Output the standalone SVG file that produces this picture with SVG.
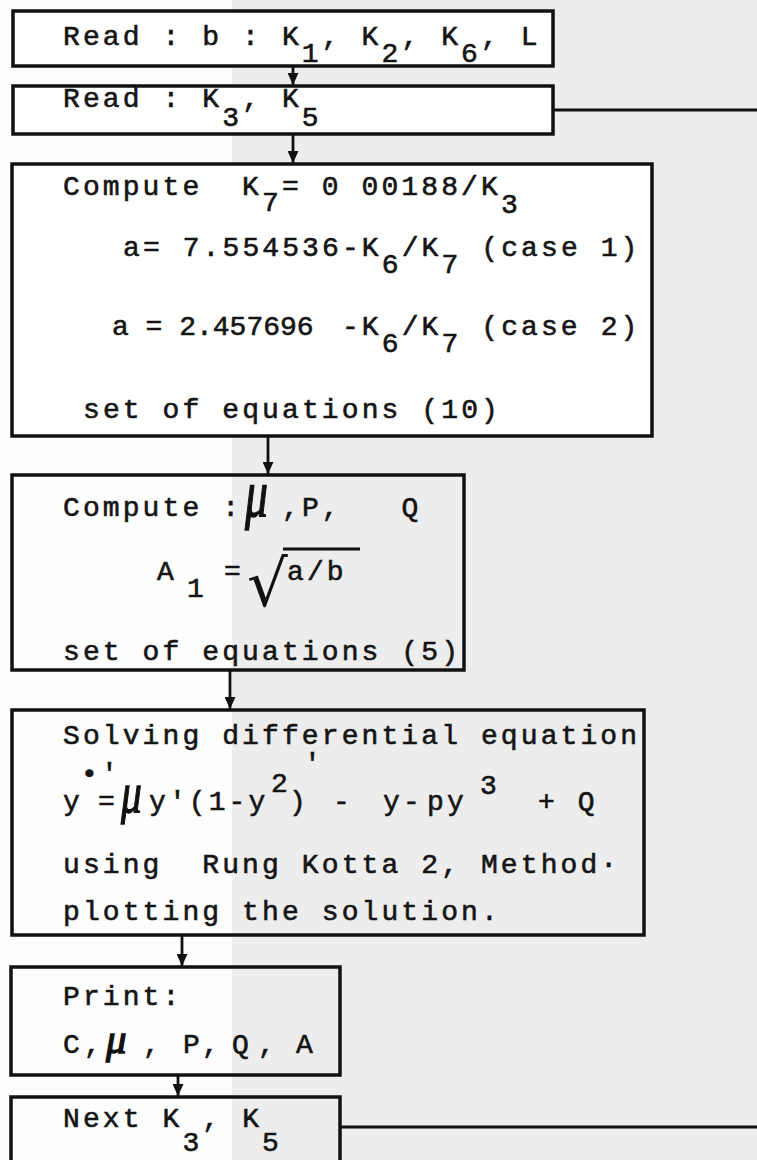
<svg xmlns="http://www.w3.org/2000/svg" width="757" height="1160" viewBox="0 0 757 1160">
<style>
.bx{fill:#fff;stroke:#111;stroke-width:3.5}
.bn{fill:none;stroke:#111;stroke-width:3.5}
.cn{stroke:#111;stroke-width:2.8;fill:none}
.t{font-family:"Liberation Mono","DejaVu Sans Mono",monospace;font-size:28px;letter-spacing:3.1px;fill:#151515;stroke:#151515;stroke-width:0.6px}
.mu{font-family:"Liberation Serif","DejaVu Serif",serif;font-style:italic;fill:#111;stroke:#111;stroke-width:0.8px}
.rt{font-family:"DejaVu Sans",sans-serif;fill:#111}
</style>
<defs>
<marker id="ah" markerWidth="12" markerHeight="11" refX="12" refY="5.5" orient="auto" markerUnits="userSpaceOnUse" viewBox="0 0 12 11">
<path d="M0,0 L12,5.5 L0,11 Z" fill="#111"/>
</marker>
</defs>
<rect x="0" y="0" width="757" height="1160" fill="#ededed"/>
<rect x="0" y="0" width="232" height="1160" fill="#fdfdfd"/>

<g id="connectors">
<line class="cn" x1="293" y1="67" x2="293" y2="85" marker-end="url(#ah)"/>
<line class="cn" x1="293" y1="135" x2="293" y2="163" marker-end="url(#ah)"/>
<line class="cn" x1="268" y1="437" x2="268" y2="474" marker-end="url(#ah)"/>
<line class="cn" x1="230" y1="671" x2="230" y2="709" marker-end="url(#ah)"/>
<line class="cn" x1="182" y1="936" x2="182" y2="966" marker-end="url(#ah)"/>
<line class="cn" x1="178" y1="1076" x2="178" y2="1096" marker-end="url(#ah)"/>
<line class="cn" x1="553" y1="110" x2="757" y2="110"/>
<line class="cn" x1="340" y1="1127" x2="757" y2="1127"/>
</g>

<g id="read1">
<rect class="bx" x="13" y="11" width="540" height="55"/>
<text class="t" xml:space="preserve" x="63" y="45">Read : b : K<tspan dy="17">1</tspan><tspan dy="-17">, K</tspan><tspan dy="17">2</tspan><tspan dy="-17">, K</tspan><tspan dy="17">6</tspan><tspan dy="-17">, L</tspan></text>
</g>

<g id="read2">
<rect class="bx" x="13" y="86" width="540" height="48"/>
<text class="t" xml:space="preserve" x="63" y="107">Read : K<tspan dy="19">3</tspan><tspan dy="-19">, K</tspan><tspan dy="19">5</tspan></text>
</g>

<g id="compute1">
<rect class="bx" x="12" y="164" width="640" height="272"/>
<text class="t" xml:space="preserve" x="63" y="195">Compute  K<tspan dy="16">7</tspan><tspan dy="-16">= 0 00188/K</tspan><tspan dy="18">3</tspan></text>
<text class="t" xml:space="preserve" x="123" y="256">a= 7.554536-K<tspan dy="17">6</tspan><tspan dy="-17">/K</tspan><tspan dy="17">7</tspan><tspan dy="-17"> (case 1)</tspan></text>
<text class="t" xml:space="preserve" x="112" y="335"><tspan letter-spacing="0">a = 2.457696</tspan><tspan x="322"> -K</tspan><tspan dy="17">6</tspan><tspan dy="-17">/K</tspan><tspan dy="17">7</tspan><tspan dy="-17"> (case 2)</tspan></text>
<text class="t" xml:space="preserve" x="83" y="418">set of equations (10)</text>
</g>

<g id="compute2">
<rect class="bn" x="12" y="475" width="452" height="195"/>
<text class="t" xml:space="preserve" x="63" y="516">Compute :</text>
<text class="mu" transform="translate(245,516) scale(1.2,1.75)" x="0" y="0" font-size="38">μ</text>
<text class="t" xml:space="preserve" x="282" y="516">,P,   Q</text>
<text class="t" x="157" y="580">A</text>
<text class="t" x="187" y="597">1</text>
<text class="t" x="224" y="580">=</text>
<text class="rt" x="247" y="606" font-size="64">√</text>
<line x1="283" y1="549" x2="360" y2="549" stroke="#111" stroke-width="3"/>
<text class="t" xml:space="preserve" x="287" y="580" letter-spacing="0">a/b</text>
<text class="t" xml:space="preserve" x="63" y="660">set of equations (5)</text>
</g>

<g id="solve">
<rect class="bn" x="12" y="710" width="632" height="225"/>
<text class="t" xml:space="preserve" x="63" y="744">Solving differential equation</text>
<text class="t" x="63" y="810" letter-spacing="0">y</text>
<text class="t" x="81" y="782" font-size="13" letter-spacing="0">•'</text>
<text class="t" x="98" y="810" letter-spacing="0">=</text>
<text class="mu" transform="translate(121,812) scale(1.15,1.6)" x="0" y="0" font-size="36">μ</text>
<text class="t" xml:space="preserve" x="149" y="810">y'(1-y</text>
<text class="t" x="271" y="792">2</text>
<text class="t" x="289" y="810">)</text>
<text class="t" x="304" y="772">'</text>
<text class="t" x="333" y="810">-</text>
<text class="t" xml:space="preserve" x="383" y="810" letter-spacing="0">y-</text>
<text class="t" xml:space="preserve" x="427" y="810" letter-spacing="1px">py</text>
<text class="t" x="480" y="794">3</text>
<text class="t" xml:space="preserve" x="538" y="810">+ Q</text>
<text class="t" xml:space="preserve" x="63" y="873">using  Rung Kotta 2, Method·</text>
<text class="t" xml:space="preserve" x="63" y="920">plotting the solution.</text>
</g>

<g id="print">
<rect class="bn" x="11" y="967" width="329" height="108"/>
<text class="t" xml:space="preserve" x="63" y="1005">Print:</text>
<text class="t" x="63" y="1053" letter-spacing="0">C</text>
<text class="t" x="84" y="1053" letter-spacing="0">,</text>
<text class="mu" transform="translate(106,1053) scale(1.7,1.8)" x="0" y="0" font-size="24">μ</text>
<text class="t" x="143" y="1053">,</text>
<text class="t" x="183" y="1053">P</text>
<text class="t" x="202" y="1053">,</text>
<text class="t" x="232" y="1053">Q</text>
<text class="t" x="258" y="1053">,</text>
<text class="t" x="296" y="1053">A</text>
</g>

<g id="next">
<rect class="bn" x="11" y="1097" width="329" height="80"/>
<text class="t" xml:space="preserve" x="63" y="1127">Next K<tspan dy="24">3</tspan><tspan dy="-24">, K</tspan><tspan dy="24">5</tspan></text>
</g>
</svg>
